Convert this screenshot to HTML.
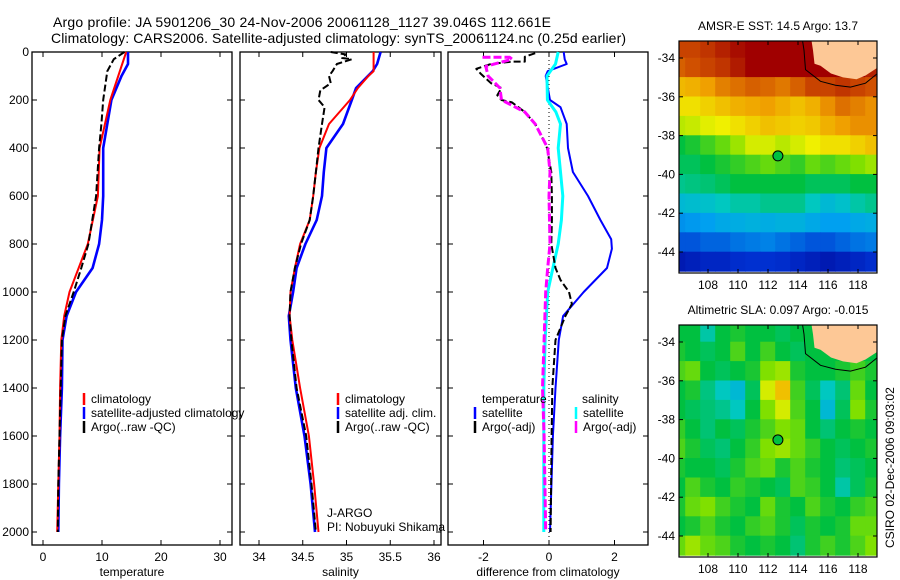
<!DOCTYPE html>
<html><head><meta charset="utf-8">
<style>
html,body{margin:0;padding:0;background:#fff;}
svg{display:block;font-family:"Liberation Sans",sans-serif;}
</style></head>
<body>
<svg id="fig" width="900" height="580" viewBox="0 0 900 580" xmlns="http://www.w3.org/2000/svg">
<rect width="900" height="580" fill="#fff"/>
<text x="53" y="27" font-size="14" textLength="498">Argo profile: JA 5901206_30 24-Nov-2006 20061128_1127 39.046S 112.661E</text>
<text x="51" y="43" font-size="14" textLength="575">Climatology: CARS2006. Satellite-adjusted climatology: synTS_20061124.nc (0.25d earlier)</text>
<text transform="translate(894,548) rotate(-90)" font-size="12">CSIRO 02-Dec-2006 09:03:02</text>
<g id="plots"></g>
</svg>
<script>
// ---------- profile data ----------
const tempDepthClim = [0,200,400,600,800,1000,1100,1200,1400,1600,1800,2000];
const tempClim      = [14.1,11.4,9.6,9.3,7.6,4.5,3.6,3.1,2.9,2.8,2.6,2.4];
const tempDepthSat  = [0,50,100,200,400,600,700,800,900,1000,1100,1200,1400,1600,1800,2000];
const tempSat       = [14.4,14.4,13.3,11.6,10.2,10.2,10.0,9.5,8.4,5.6,4.0,3.3,3.2,2.9,2.7,2.6];
const tempDepthArgo = [0,30,80,200,300,400,600,800,900,1000,1100,1200,1400,1600,1800,2000];
const tempArgo      = [13.8,12.0,10.9,10.2,9.9,9.5,9.0,7.7,6.5,5.2,3.8,3.2,3.0,2.8,2.6,2.5];

const salDepthClim = [0,80,100,150,200,300,400,500,600,700,800,900,1000,1100,1200,1400,1600,1800,2000];
const salClim      = [35.31,35.31,35.25,35.13,35.04,34.80,34.69,34.65,34.62,34.58,34.47,34.41,34.36,34.35,34.38,34.47,34.57,34.63,34.68];
const salDepthSat  = [0,50,80,150,200,300,400,500,600,700,800,900,1000,1100,1200,1400,1600,1800,2000];
const salSat       = [35.39,35.35,35.30,35.11,35.06,34.96,34.77,34.74,34.72,34.66,34.53,34.43,34.39,34.34,34.36,34.42,34.52,34.59,34.64];
const salDepthArgo = [0,10,25,30,50,80,100,130,160,200,230,300,400,500,600,700,800,900,1000,1100,1200,1400,1600,1800,2000];
const salArgo      = [34.82,34.99,34.95,35.06,34.89,34.84,34.80,34.82,34.70,34.68,34.75,34.72,34.68,34.65,34.62,34.58,34.48,34.41,34.36,34.35,34.37,34.43,34.54,34.60,34.65];

const dTSatDepth  = [0,30,50,80,100,200,230,300,400,500,600,700,780,820,900,1000,1100,1200,1400,1600,2000];
const dTSat       = [0.45,0.48,0.54,-0.04,-0.10,0.03,0.35,0.54,0.58,0.73,1.19,1.57,1.90,1.92,1.77,1.06,0.43,0.30,0.20,0.12,0.03];
const dSSatDepth  = [0,50,100,200,250,300,400,500,600,700,800,900,1000,1200,1400,1600,2000];
const dSSat       = [0.28,0.20,-0.06,-0.05,0.21,0.35,0.28,0.35,0.42,0.38,0.28,0.12,-0.04,-0.12,-0.16,-0.16,-0.16];
const dTArgoDepth = [5,20,40,40,50,70,90,130,150,180,200,210,250,300,350,400,500,600,700,800,900,950,1000,1050,1100,1200,1400,1600,2000];
const dTArgo      = [-0.42,-0.74,-0.74,-1.13,-1.77,-2.22,-2.09,-1.77,-1.45,-1.58,-1.45,-1.13,-0.74,-0.42,-0.23,-0.06,0.07,0.09,0.09,0.07,0.20,0.35,0.61,0.70,0.50,0.20,0.10,0.08,0.05];
const dSArgoDepth = [22,22,30,60,100,150,200,250,300,400,500,600,800,900,1000,1200,1400,1600,2000];
const dSArgo      = [-2.03,-1.20,-1.13,-1.93,-1.86,-1.50,-1.45,-0.74,-0.42,-0.04,0.03,0.00,0.03,-0.04,-0.10,-0.15,-0.20,-0.15,-0.10];

const tempTicks = [0,10,20,30];
const salTicks  = [34,34.5,35,35.5,36];
const salTickLabels = ["34","34.5","35","35.5","36"];
const diffTicks = [-2,0,2];
const depthTicks = [0,200,400,600,800,1000,1200,1400,1600,1800,2000];

// ---------- map data (jet fraction, rows lat -33.5..-44.5, cols lon 106..119) ----------
const mapLons = [106,107,108,109,110,111,112,113,114,115,116,117,118,119];
const mapLats = [-33.5,-34.5,-35.5,-36.5,-37.5,-38.5,-39.5,-40.5,-41.5,-42.5,-43.5,-44.5];
const sstGrid = [
 [0.90,0.90,0.92,0.95,0.98,1,1,1,1,1,1,1,1,1],
 [0.86,0.88,0.90,0.92,0.96,1,1,1,1,1,1,1,1,0.95],
 [0.75,0.76,0.78,0.82,0.84,0.86,0.85,0.83,0.86,0.90,0.90,0.92,0.90,0.88],
 [0.70,0.70,0.72,0.74,0.76,0.77,0.78,0.76,0.74,0.76,0.80,0.84,0.82,0.80],
 [0.64,0.65,0.67,0.68,0.70,0.72,0.74,0.73,0.72,0.73,0.76,0.78,0.80,0.80],
 [0.50,0.52,0.55,0.58,0.62,0.66,0.66,0.64,0.66,0.68,0.70,0.70,0.72,0.74],
 [0.48,0.48,0.50,0.52,0.54,0.56,0.58,0.56,0.54,0.58,0.56,0.58,0.60,0.62],
 [0.44,0.45,0.46,0.48,0.50,0.50,0.50,0.50,0.50,0.48,0.48,0.48,0.50,0.50],
 [0.36,0.37,0.38,0.40,0.42,0.42,0.44,0.44,0.44,0.40,0.36,0.38,0.42,0.44],
 [0.28,0.29,0.30,0.32,0.33,0.34,0.33,0.34,0.34,0.32,0.30,0.30,0.32,0.33],
 [0.20,0.20,0.22,0.22,0.24,0.25,0.26,0.24,0.22,0.20,0.20,0.22,0.24,0.25],
 [0.08,0.10,0.12,0.12,0.14,0.15,0.15,0.14,0.12,0.10,0.08,0.10,0.12,0.14]];
const slaGrid = [
 [0.50,0.50,0.42,0.50,0.52,0.50,0.50,0.48,0.50,0.50,0.50,0.50,0.50,0.50],
 [0.52,0.50,0.48,0.50,0.56,0.50,0.55,0.50,0.48,0.50,0.50,0.50,0.50,0.50],
 [0.56,0.58,0.50,0.48,0.50,0.52,0.60,0.62,0.52,0.50,0.50,0.52,0.55,0.52],
 [0.50,0.52,0.45,0.40,0.36,0.48,0.66,0.74,0.55,0.48,0.40,0.46,0.58,0.50],
 [0.50,0.48,0.46,0.44,0.40,0.50,0.60,0.66,0.56,0.50,0.36,0.48,0.60,0.52],
 [0.54,0.50,0.46,0.50,0.48,0.52,0.56,0.60,0.58,0.50,0.46,0.50,0.52,0.50],
 [0.56,0.52,0.48,0.46,0.50,0.54,0.60,0.62,0.58,0.54,0.50,0.48,0.50,0.52],
 [0.52,0.50,0.50,0.48,0.52,0.56,0.58,0.52,0.56,0.52,0.50,0.46,0.48,0.50],
 [0.50,0.56,0.52,0.50,0.54,0.52,0.50,0.48,0.56,0.54,0.50,0.42,0.48,0.52],
 [0.52,0.58,0.60,0.55,0.52,0.50,0.58,0.52,0.50,0.56,0.52,0.50,0.54,0.56],
 [0.50,0.52,0.56,0.52,0.50,0.54,0.56,0.52,0.48,0.52,0.50,0.52,0.58,0.58],
 [0.58,0.62,0.58,0.56,0.52,0.50,0.52,0.50,0.46,0.52,0.55,0.52,0.56,0.60]];
const landLon = [114.9,115.0,115.1,115.5,116.2,117.0,117.9,118.5,119.3,119.3];
const landLat = [-33.1,-33.6,-34.3,-34.4,-34.8,-35.0,-35.1,-34.9,-34.5,-33.1];
const coastLon = [114.3,114.4,114.5,115.5,116.5,117.5,118.5,119.3];
const coastLat = [-33.1,-33.6,-34.6,-35.2,-35.4,-35.5,-35.3,-34.8];
const argoLon = 112.661, argoLat = -39.046;
const lonTicks = [108,110,112,114,116,118];
const latTicks = [-34,-36,-38,-40,-42,-44];

const NS = "http://www.w3.org/2000/svg";
const root = document.getElementById('plots');
function mk(tag, attrs, parent) {
  const e = document.createElementNS(NS, tag);
  for (const k in attrs) e.setAttribute(k, attrs[k]);
  (parent || root).appendChild(e);
  return e;
}
const PT = 52, PB = 545;
const yD = d => 52 + 0.24 * d;

function panel(name, x0, x1, xf, ticks, tickLabels, xlabel, showY) {
  const g = mk('g', {});
  
  
  const fr = mk('rect', {x:x0, y:PT, width:x1-x0, height:PB-PT, fill:'none', stroke:'#000', 'stroke-width':1.3}, g);
  
  
  ticks.forEach((t, i) => {
    const x = xf(t);
    mk('line', {x1:x, x2:x, y1:PB, y2:PB-5, stroke:'#000'}, g);
    mk('line', {x1:x, x2:x, y1:PT, y2:PT+5, stroke:'#000'}, g);
    const tl = mk('text', {x:x, y:561, 'font-size':12, 'text-anchor':'middle'}, g);
    tl.textContent = tickLabels[i];
    
    
  });
  depthTicks.forEach(d => {
    const y = yD(d);
    mk('line', {x1:x0, x2:x0+5, y1:y, y2:y, stroke:'#000'}, g);
    mk('line', {x1:x1, x2:x1-5, y1:y, y2:y, stroke:'#000'}, g);
    if (showY) {
      const yl = mk('text', {x:29, y:y+4, 'font-size':12, 'text-anchor':'end'}, g);
      yl.textContent = d;
      
      
    }
  });
  const xl = mk('text', {x:(x0+x1)/2, y:576, 'font-size':12, 'text-anchor':'middle'}, g);
  xl.textContent = xlabel;
  
  
  return g;
}
function line(g, name, xs, ds, xf, color, w, dash) {
  const pts = xs.map((v, i) => xf(v).toFixed(1) + ',' + yD(ds[i]).toFixed(1)).join(' ');
  const p = mk('polyline', {points:pts, fill:'none', stroke:color, 'stroke-width':w, 'stroke-linejoin':'round'}, g);
  if (dash) p.setAttribute('stroke-dasharray', dash);
  
  
}
function legend(g, x, y, color, label, name) {
  mk('line', {x1:x, x2:x, y1:y-10, y2:y+2, stroke:color, 'stroke-width':2.5}, g);
  const t = mk('text', {x:x+7, y:y, 'font-size':12}, g);
  t.textContent = label;
  
  
}

// Panel 1: temperature
const xT = v => 43 + 5.9 * v;
const g1 = panel('temperature-panel', 32, 232, xT, tempTicks, tempTicks.map(String), 'temperature', true);
line(g1, 'temp-satellite-line', tempSat, tempDepthSat, xT, '#0000ff', 2.6);
line(g1, 'temp-climatology-line', tempClim, tempDepthClim, xT, '#ff0000', 2);
line(g1, 'temp-argo-line', tempArgo, tempDepthArgo, xT, '#000', 2, '7,3');
legend(g1, 84, 403, '#ff0000', 'climatology', 'legend-climatology');
legend(g1, 84, 417, '#0000ff', 'satellite-adjusted climatology', 'legend-satellite-adjusted');
legend(g1, 84, 431, '#000', 'Argo(..raw -QC)', 'legend-argo');

// Panel 2: salinity
const xS = v => 259 + 87.5 * (v - 34);
const g2 = panel('salinity-panel', 240, 441, xS, salTicks, salTickLabels, 'salinity', false);
line(g2, 'sal-satellite-line', salSat, salDepthSat, xS, '#0000ff', 2.6);
line(g2, 'sal-climatology-line', salClim, salDepthClim, xS, '#ff0000', 2);
line(g2, 'sal-argo-line', salArgo, salDepthArgo, xS, '#000', 2, '7,3');
legend(g2, 338, 403, '#ff0000', 'climatology', 'legend-climatology');
legend(g2, 338, 417, '#0000ff', 'satellite adj. clim.', 'legend-satellite-adj');
legend(g2, 338, 431, '#000', 'Argo(..raw -QC)', 'legend-argo');
const c1 = mk('text', {x:327, y:517, 'font-size':12}, g2); c1.textContent = 'J-ARGO';
 
const c2 = mk('text', {x:327, y:531, 'font-size':12}, g2); c2.textContent = 'PI: Nobuyuki Shikama';
 

// Panel 3: difference
const xDf = v => 549 + 32.75 * v;
const g3 = panel('difference-panel', 448, 648, xDf, diffTicks, diffTicks.map(String), 'difference from climatology', false);
mk('line', {x1:xDf(0), x2:xDf(0), y1:PT, y2:PB, stroke:'#000', 'stroke-width':1, 'stroke-dasharray':'1,3'}, g3);
line(g3, 'diff-temp-satellite-line', dTSat, dTSatDepth, xDf, '#0000ff', 2);
line(g3, 'diff-sal-satellite-line', dSSat, dSSatDepth, xDf, '#00ffff', 3);
line(g3, 'diff-temp-argo-line', dTArgo, dTArgoDepth, xDf, '#000', 2, '7,3');
line(g3, 'diff-sal-argo-line', dSArgo, dSArgoDepth, xDf, '#ff00ff', 3, '8,3');
const lt = mk('text', {x:482, y:403, 'font-size':12}, g3); lt.textContent = 'temperature';
 
const ls = mk('text', {x:582, y:403, 'font-size':12}, g3); ls.textContent = 'salinity';
 
legend(g3, 475, 417, '#0000ff', 'satellite', 'legend-temp-satellite');
legend(g3, 475, 431, '#000', 'Argo(-adj)', 'legend-temp-argo');
legend(g3, 576, 417, '#00ffff', 'satellite', 'legend-sal-satellite');
legend(g3, 576, 431, '#ff00ff', 'Argo(-adj)', 'legend-sal-argo');

// ---------- maps ----------
const stops = [[0,[0,0,143]],[0.15,[0,48,208]],[0.3,[0,160,240]],[0.4,[0,200,192]],[0.5,[0,192,64]],[0.6,[128,224,0]],[0.68,[240,240,0]],[0.78,[240,160,0]],[0.88,[208,80,0]],[1,[160,0,0]]];
function cmap(v) {
  v = Math.max(0, Math.min(1, v));
  for (let i = 1; i < stops.length; i++) {
    if (v <= stops[i][0]) {
      const a = stops[i-1], b = stops[i], f = (v - a[0]) / (b[0] - a[0]);
      const c = a[1].map((x, k) => Math.round(x + f * (b[1][k] - x)));
      return 'rgb(' + c.join(',') + ')';
    }
  }
  return 'rgb(160,0,0)';
}
function drawMap(name, top, grid, title) {
  const mx0 = 679, mx1 = 877, mbot = top + 232;
  const lonX = lon => 708 + 15 * (lon - 108);
  const latY = lat => top + 17 + 19.4 * (-34 - lat);
  const g = mk('g', {});
  
  
  const cid = name + '-clip';
  const cp = mk('clipPath', {id:cid}, g);
  mk('rect', {x:mx0, y:top, width:mx1-mx0, height:232}, cp);
  const cg = mk('g', {'clip-path':'url(#' + cid + ')'}, g);
  grid.forEach((row, r) => row.forEach((v, c) => {
    const cell = mk('rect', {x:lonX(mapLons[c]-0.5)-0.3, y:latY(mapLats[r]+0.5)-0.3, width:15.6, height:20, fill:cmap(v)}, cg);
    
    
  }));
  mk('rect', {x:lonX(105), y:latY(-45.6), width:lonX(121)-lonX(105), height:latY(-45.0)-latY(-45.6), fill:cmap(grid[11][0])}, cg);
  const land = mk('polygon', {points:landLon.map((l, i) => lonX(l).toFixed(1) + ',' + latY(landLat[i]).toFixed(1)).join(' ') + ' ' + lonX(121) + ',' + (top-5), fill:'#fdc896'}, cg);
  
  
  mk('polyline', {points:coastLon.map((l, i) => lonX(l).toFixed(1) + ',' + latY(coastLat[i]).toFixed(1)).join(' '), fill:'none', stroke:'#000', 'stroke-width':1}, cg);
  const dot = mk('circle', {cx:lonX(argoLon), cy:latY(argoLat), r:5, fill:'#00c040', stroke:'#000', 'stroke-width':1}, g);
  
  
  mk('rect', {x:mx0, y:top, width:mx1-mx0, height:232, fill:'none', stroke:'#000', 'stroke-width':1.2}, g);
  lonTicks.forEach(l => {
    const x = lonX(l);
    mk('line', {x1:x, x2:x, y1:mbot, y2:mbot-4, stroke:'#000'}, g);
    mk('line', {x1:x, x2:x, y1:top, y2:top+4, stroke:'#000'}, g);
    const t = mk('text', {x:x, y:mbot+16, 'font-size':12, 'text-anchor':'middle'}, g);
    t.textContent = l;
    
    
  });
  latTicks.forEach(l => {
    const y = latY(l);
    mk('line', {x1:mx0, x2:mx0+4, y1:y, y2:y, stroke:'#000'}, g);
    mk('line', {x1:mx1, x2:mx1-4, y1:y, y2:y, stroke:'#000'}, g);
    const t = mk('text', {x:mx0-4, y:y+4, 'font-size':12, 'text-anchor':'end'}, g);
    t.textContent = l;
    
    
  });
  const tt = mk('text', {x:(mx0+mx1)/2, y:top-11, 'font-size':12, 'text-anchor':'middle'}, g);
  tt.textContent = title;
  
  
}
drawMap('sst-map', 41, sstGrid, 'AMSR-E SST: 14.5 Argo: 13.7');
drawMap('sla-map', 325, slaGrid, 'Altimetric SLA: 0.097 Argo: -0.015');
</script>
</body></html>
